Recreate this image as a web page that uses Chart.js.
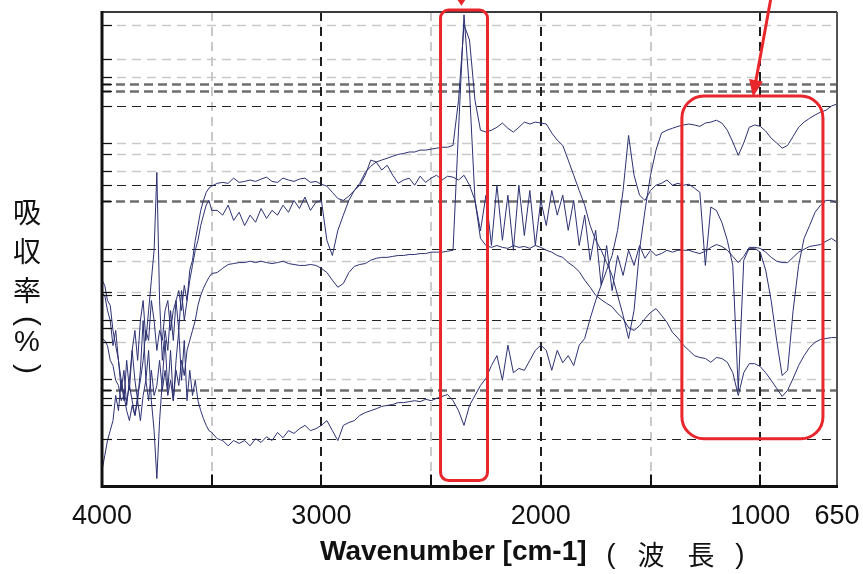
<!DOCTYPE html>
<html><head><meta charset="utf-8">
<script src="https://cdn.jsdelivr.net/npm/chart.js@4.4.1/dist/chart.umd.min.js"></script>
<style>html,body{margin:0;padding:0;background:#fff}canvas{display:block}</style>
</head><body>
<canvas id="c" width="863" height="574"></canvas>
<script>
const wavenumbers = [
4000,3987.5,3975,3962.5,3950,3937.5,3925,3912.5,3900,3887.5,
3875,3862.5,3850,3837.5,3825,3812.5,3800,3787.5,3775,3762.5,
3750,3737.5,3725,3712.5,3700,3687.5,3675,3662.5,3650,3637.5,
3625,3612.5,3600,3587.5,3575,3562.5,3550,3537.5,3525,3512.5,
3500,
3475,3450,3425,3400,3375,3350,3325,3300,3275,
3250,3225,3200,3175,3150,3125,3100,3075,3050,3025,
3000,2975,2950,2925,2900,2875,2850,2825,2800,2775,
2750,2725,2700,2675,2650,2625,2600,2575,2550,2525,
2500,2475,2450,2425,2400,2375,2350,2325,2300,2275,
2250,2225,2200,2175,2150,2125,2100,2075,2050,2025,
2000,1975,1950,1925,1900,1875,1850,1825,1800,1775,
1750,1725,1700,1675,1650,1625,1600,1575,1550,1525,
1500,1475,1450,1425,1400,1375,1350,1325,1300,1275,
1250,1225,1200,1175,1150,1125,1100,1075,1050,1025,
1000,975,950,925,900,875,850,825,800,775,
750,725,700,675,650];

const spectrumA = [
43.5,42.4,39.2,38.2,32.9,29.7,26.6,22.4,19.2,18.1,
21.3,18.1,15.0,19.2,22.4,26.6,32.9,30.8,39.2,35.0,
28.7,32.9,30.8,37.1,39.2,32.9,37.1,39.2,41.3,37.1,
42.4,39.2,45.6,47.7,51.9,55.0,58.2,60.3,62.0,62.9,
63.3,
63.9,64.1,63.9,65.0,64.1,64.3,64.6,64.3,64.8,
65.2,64.3,64.1,65.0,64.6,64.3,64.8,65.0,64.1,64.3,
63.7,63.3,62.0,60.7,60.3,61.2,62.4,63.9,66.2,67.5,
68.4,68.8,69.2,69.6,70.0,70.2,70.5,70.5,70.9,70.9,
71.1,71.3,71.5,71.5,71.9,81.4,97.3,94.1,81.4,75.1,
74.7,75.1,75.7,76.6,75.5,74.7,75.7,76.8,76.4,76.8,
76.6,76.4,74.5,73.0,71.9,68.8,65.6,62.4,59.3,55.0,
51.9,49.8,47.2,44.5,40.3,36.1,31.2,37.1,49.8,58.2,
65.6,70.9,74.5,75.1,75.5,75.9,76.2,76.4,76.2,75.9,
76.6,76.8,77.2,76.6,75.1,72.6,69.8,72.4,75.7,76.2,
75.9,74.9,73.4,72.4,71.3,71.9,73.8,75.7,76.8,77.6,
78.3,78.9,79.3,80.2,80.6];

const spectrumB = [
40.7,40.3,37.1,35.0,29.7,32.9,26.6,20.3,24.5,17.1,
22.4,28.7,32.9,26.6,35.0,39.2,30.8,37.1,43.5,49.8,
66.2,39.2,26.6,32.9,28.7,37.1,30.8,39.2,32.9,41.3,
35.0,39.2,43.5,46.6,49.8,51.9,55.0,57.2,59.3,60.3,
58.2,
58.2,57.2,59.3,56.1,57.8,55.0,57.2,55.7,58.6,
56.5,58.2,57.2,59.3,57.8,60.3,58.6,61.0,58.2,59.9,
60.3,51.9,48.7,54.0,57.2,60.3,62.4,63.5,65.6,68.8,
68.4,66.7,67.7,65.6,63.9,64.6,65.0,63.5,65.4,64.1,
65.0,65.6,64.6,65.4,65.2,64.6,65.6,63.5,60.3,53.9,
61.4,50.8,63.5,51.9,61.4,49.8,63.5,52.9,62.4,50.8,
60.3,55.0,62.4,57.2,61.4,54.0,60.3,50.8,57.2,47.7,
54.0,42.4,50.8,41.3,48.7,44.5,49.8,46.6,50.8,48.1,
49.8,48.7,49.1,49.8,49.4,49.8,49.8,49.8,49.4,49.1,
49.6,50.4,51.0,50.6,49.8,48.5,47.2,48.5,50.4,50.4,
50.2,49.4,48.3,47.5,47.2,47.2,48.3,49.4,50.0,50.6,
50.8,51.0,51.7,52.3,51.5];

const spectrumC = [
31.2,30.8,29.7,26.6,25.5,22.4,21.3,18.1,19.2,16.0,
13.9,17.1,15.0,18.1,13.9,19.2,22.4,18.1,24.5,19.2,
21.3,26.6,20.3,24.5,19.2,22.4,18.1,24.5,21.3,26.6,
23.4,28.7,30.8,32.9,35.0,38.2,40.3,41.8,43.0,44.1,
44.9,
45.1,46.0,46.8,47.0,47.2,47.2,47.5,47.2,47.5,
47.2,47.0,47.2,47.5,47.0,46.8,46.6,46.6,46.8,46.6,
46.0,45.1,43.5,42.0,42.8,45.1,46.4,46.8,47.0,47.7,
48.1,48.3,48.3,48.5,48.7,48.7,48.9,48.9,49.1,49.1,
49.4,49.4,49.4,49.6,49.8,75.1,99.4,83.5,60.3,52.3,
50.8,50.4,50.8,50.4,50.2,50.8,50.4,50.6,50.2,50.8,
50.4,49.8,49.4,48.7,48.3,47.2,46.4,45.3,43.5,42.0,
40.3,39.4,38.6,37.9,36.5,35.4,33.5,32.9,33.9,35.4,
36.7,37.5,36.1,34.6,32.5,31.3,29.8,28.7,27.6,27.2,
27.0,26.2,27.2,27.0,26.2,24.0,19.2,24.0,25.9,25.9,
25.3,24.0,22.4,20.7,19.0,20.3,22.8,25.5,27.6,29.3,
30.4,31.0,31.2,31.4,31.4];

const spectrumD = [
3.4,6.5,9.7,11.8,13.9,19.2,16.0,22.4,18.1,26.6,
20.3,28.7,22.4,18.1,24.5,35.0,22.4,28.7,18.1,11.8,
1.7,13.9,22.4,30.8,20.3,28.7,18.1,26.6,32.9,22.4,
30.8,18.1,24.5,19.2,22.4,18.1,16.0,14.3,12.9,11.8,
11.4,
10.1,9.7,8.6,9.7,9.1,9.7,8.6,10.1,9.3,
10.5,9.7,11.4,10.3,11.8,11.2,12.2,12.9,11.8,12.2,
12.9,13.9,11.8,9.7,12.9,13.5,13.9,15.0,15.6,16.0,
16.4,16.9,17.1,17.3,17.7,17.7,17.9,18.1,17.9,18.4,
18.1,18.6,19.0,19.4,18.1,16.0,12.9,17.1,19.2,21.3,
22.8,25.5,27.6,22.4,29.8,24.0,24.9,24.5,26.6,28.7,
29.8,28.7,24.5,28.7,26.1,27.6,25.5,29.8,31.2,35.4,
39.2,42.4,45.6,48.7,54.0,62.4,74.0,65.6,61.4,60.3,
62.4,63.5,63.9,64.6,63.5,63.9,63.5,63.7,62.9,62.0,
46.6,58.9,58.2,55.7,51.9,46.6,20.3,47.7,50.2,50.2,
49.4,45.6,39.2,30.8,23.4,24.5,37.1,46.6,52.3,55.0,
57.8,59.3,60.3,60.3,59.7];

const xTickValues = [4000,3500,3000,2500,2000,1500,1000,650];
const xTickLabels = {4000:'4000',3000:'3000',2000:'2000',1000:'1000',650:'650'};
const majorGrid = [3000,2000,1000];
const minorGrid = [3500,2500,1500];
const hLight = [97.3,90.1,86.3,72.4,70.0,66.4,47.5,40.9,33.5,30.4,22.6];
const hGray = [84.8,83.3,60.1,20.3];
const hBlack = [80.2,63.5,50.0,40.3,35.0,18.6,17.1,10.1];
const yTitleChars = ['吸','収','率','(','%',')'];
const xTitle = 'Wavenumber [cm-1]';
const xTitleCjk = ['(','波','長',')'];
// annotation boxes [wnLeft, wnRight, valTop, valBottom, radius]
const boxes = [[2457,2243,100.4,1.3,8],[1357,714,82.3,10.1,22]];

const toPts = arr => wavenumbers.map((w,i)=>({x:w,y:arr[i]}));
const lineColor = '#2c3172';
const mk = (d)=>({data:toPts(d),borderColor:lineColor,borderWidth:1,pointRadius:0,tension:0,fill:false});

const decor = {
  id:'decor',
  beforeDatasetsDraw(chart){
    const {ctx, chartArea:a, scales:{x,y}} = chart;
    ctx.save();
    ctx.beginPath(); ctx.rect(a.left,a.top,a.right-a.left,a.bottom-a.top); ctx.clip();
    const hl = (vals,color,w,dash)=>{
      ctx.strokeStyle=color; ctx.lineWidth=w; ctx.setLineDash(dash);
      vals.forEach(v=>{const py=Math.round(y.getPixelForValue(v))+0.5;ctx.beginPath();ctx.moveTo(a.left,py);ctx.lineTo(a.right,py);ctx.stroke();});
    };
    const vl = (vals,color,w,dash)=>{
      ctx.strokeStyle=color; ctx.lineWidth=w; ctx.setLineDash(dash);
      vals.forEach(v=>{const px=Math.round(x.getPixelForValue(v));ctx.beginPath();ctx.moveTo(px,a.top);ctx.lineTo(px,a.bottom);ctx.stroke();});
    };
    hl(hLight,'#c9c9c9',1.5,[9,6]);
    vl(minorGrid,'#c9c9c9',2,[9,6]);
    hl(hGray,'#6e6e6e',2.5,[9,5]);
    hl(hBlack,'#222',1.2,[9,6]);
    vl(majorGrid,'#1e1e1e',2,[9,6]);
    ctx.restore();
  },
  afterDatasetsDraw(chart){
    const {ctx, chartArea:a, scales:{x,y}} = chart;
    ctx.save();
    ctx.strokeStyle='#111'; ctx.lineWidth=1.2; ctx.setLineDash([]);
    [...hLight,...hGray,...hBlack].forEach(v=>{const py=Math.round(y.getPixelForValue(v))+0.5;ctx.beginPath();ctx.moveTo(a.left,py);ctx.lineTo(a.left+10,py);ctx.stroke();});
    ctx.lineWidth=2;
    [...minorGrid,...majorGrid].forEach(v=>{const px=Math.round(x.getPixelForValue(v));ctx.beginPath();ctx.moveTo(px,a.bottom);ctx.lineTo(px,a.bottom-12);ctx.stroke();});
    ctx.strokeStyle='#3a3a3a'; ctx.lineWidth=2;
    ctx.beginPath(); ctx.moveTo(a.left,a.top); ctx.lineTo(a.right,a.top); ctx.stroke();
    ctx.strokeStyle='#555'; ctx.beginPath(); ctx.moveTo(a.right,a.top); ctx.lineTo(a.right,a.bottom); ctx.stroke();
    ctx.strokeStyle='#111'; ctx.lineWidth=3;
    ctx.beginPath(); ctx.moveTo(a.left,a.top-1); ctx.lineTo(a.left,a.bottom); ctx.lineTo(a.right+1,a.bottom); ctx.stroke();
    ctx.strokeStyle='#e8262b'; ctx.fillStyle='#e8262b'; ctx.lineWidth=3;
    boxes.forEach(b=>{
      const l=x.getPixelForValue(b[0]), r=x.getPixelForValue(b[1]);
      const t=y.getPixelForValue(b[2]), btm=y.getPixelForValue(b[3]);
      ctx.beginPath(); ctx.roundRect(l,t,r-l,btm-t,b[4]); ctx.stroke();
    });
    const ax=x.getPixelForValue(2362), ay=y.getPixelForValue(101.3);
    ctx.beginPath(); ctx.moveTo(ax,ay); ctx.lineTo(ax-6,ay-9); ctx.lineTo(ax+6,ay-9); ctx.closePath(); ctx.fill();
    const sx=x.getPixelForValue(951), sy=y.getPixelForValue(103);
    const tx=x.getPixelForValue(1033), ty=y.getPixelForValue(82.1);
    const ang=Math.atan2(ty-sy,tx-sx);
    ctx.beginPath(); ctx.moveTo(sx,sy); ctx.lineTo(tx-12*Math.cos(ang),ty-12*Math.sin(ang)); ctx.stroke();
    ctx.beginPath(); ctx.moveTo(tx,ty);
    ctx.lineTo(tx-17*Math.cos(ang)+7*Math.sin(ang), ty-17*Math.sin(ang)-7*Math.cos(ang));
    ctx.lineTo(tx-17*Math.cos(ang)-7*Math.sin(ang), ty-17*Math.sin(ang)+7*Math.cos(ang));
    ctx.closePath(); ctx.fill();
    // y title (vertical)
    ctx.fillStyle='#111'; ctx.textAlign='center'; ctx.textBaseline='middle';
    const yPos=[212,251,290,321,343,369];
    yTitleChars.forEach((c,i)=>{
      if(c==='('||c===')'){
        ctx.save(); ctx.translate(27,yPos[i]); ctx.rotate(Math.PI/2);
        ctx.font='30px "Liberation Sans", Arial, sans-serif';
        ctx.fillText(c,0,0); ctx.restore();
      } else {
        ctx.font = c==='%' ? '29px "Liberation Sans", Arial, sans-serif' : '28px "Noto Sans CJK JP"';
        ctx.fillText(c,27,yPos[i]);
      }
    });
    ctx.font='bold 28px "Liberation Sans", Arial, sans-serif';
    ctx.textAlign='left';
    ctx.fillText(xTitle,320,552);
    ctx.textAlign='center';
    const cx=[611,651,701,740];
    xTitleCjk.forEach((c,i)=>{
      ctx.font = (c==='('||c===')') ? '28px "Liberation Sans", Arial, sans-serif' : '27px "Noto Sans CJK JP"';
      ctx.fillText(c,cx[i],555);
    });
    ctx.restore();
  }
};

new Chart(document.getElementById('c'),{
  type:'line',
  data:{datasets:[mk(spectrumA),mk(spectrumB),mk(spectrumC),mk(spectrumD)]},
  options:{
    responsive:false, animation:false, devicePixelRatio:1,
    layout:{padding:{left:102,right:26,top:12,bottom:27}},
    plugins:{legend:{display:false},tooltip:{enabled:false}},
    scales:{
      x:{type:'linear',reverse:true,min:650,max:4000,
        afterBuildTicks:s=>{s.ticks=xTickValues.map(v=>({value:v}));},
        afterFit:s=>{s.paddingLeft=0;s.paddingRight=0;},
        grid:{display:false,drawTicks:false},border:{display:false},
        ticks:{autoSkip:false,maxRotation:0,padding:14,color:'#111',
          font:{family:'"Liberation Sans", Arial, sans-serif',size:27},
          callback:v=>xTickLabels[v]||''}},
      y:{display:false,min:0,max:100}
    }
  },
  plugins:[decor]
});
</script>
</body></html>
